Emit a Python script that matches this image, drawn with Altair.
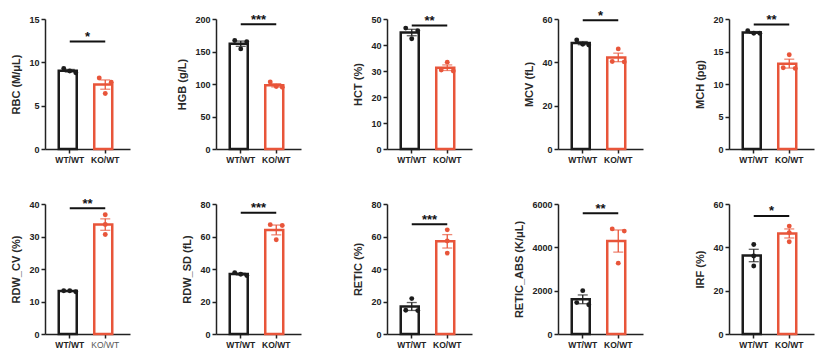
import altair as alt
import pandas as pd

GROUPS = ["WT/WT", "KO/WT"]
COLORS = ["#1c1c1c", "#e8553a"]

params = ["RBC", "HGB", "HCT", "MCV", "MCH", "RDW_CV", "RDW_SD", "RETIC", "RETIC_ABS", "IRF"]
titles = ["RBC (M/μL)", "HGB (g/L)", "HCT (%)", "MCV (fL)", "MCH (pg)",
          "RDW_CV (%)", "RDW_SD (fL)", "RETIC (%)", "RETIC_ABS (K/μL)", "IRF (%)"]
y_max = [15, 200, 50, 60, 20, 40, 80, 80, 6000, 60]
y_step = [5, 50, 10, 20, 5, 10, 20, 20, 2000, 20]

wt_values = [
    [9.3, 9.0, 8.8],
    [167, 165, 154],
    [46.5, 45.5, 42.4],
    [50.3, 48.3, 48.0],
    [18.2, 17.8, 17.8],
    [13.0, 13.3, 13.3],
    [37.8, 36.8, 36.0],
    [21.8, 14.6, 14.4],
    [2000, 1450, 1350],
    [41.3, 36.0, 31.4],
]
ko_values = [
    [8.2, 7.7, 6.4],
    [103, 96, 95],
    [33.4, 30.4, 30.0],
    [46.2, 40.4, 40.2],
    [14.5, 12.5, 12.4],
    [36.7, 33.7, 30.6],
    [67.3, 66.8, 58.0],
    [64.1, 57.2, 49.8],
    [4850, 4750, 3270],
    [49.8, 46.8, 42.6],
]
sig_y = [12.4, 192, 47.5, 59.4, 19.15, 38.7, 74.6, 67.6, 5570, 54.5]
sig_text = ["*", "***", "**", "*", "**", "**", "***", "***", "**", "*"]

W, H = 85, 130
PAD_INNER, PAD_OUTER = 0.38, 0.387
STEP = W / (2 - PAD_INNER + 2 * PAD_OUTER)
HALF_GAP = STEP * PAD_INNER / 2  # from end of first band to midpoint between bands
FONT = "Liberation Sans"
AX = "#222222"


def slots(vals, ymax, diam=5.0):
    """Beeswarm-like horizontal slot for each point (computed from values)."""
    thr = diam * ymax / H
    order = sorted(range(len(vals)), key=lambda k: -vals[k])
    clusters = []
    for k in order:
        if clusters and vals[clusters[-1][-1]] - vals[k] < thr:
            clusters[-1].append(k)
        else:
            clusters.append([k])
    names = {1: ["C"], 2: ["L", "R"], 3: ["L", "C", "R"]}
    out = [None] * len(vals)
    for c in clusters:
        for k, n in zip(c, names[len(c)]):
            out[k] = n
    return out


def panel(i):
    ym = y_max[i]
    rows = []
    for g, vals in zip(GROUPS, [wt_values[i], ko_values[i]]):
        for v, s in zip(vals, slots(vals, ym)):
            rows.append({"group": g, "value": v, "slot": s})
    df = pd.DataFrame(rows)
    sig = pd.DataFrame({"group": [GROUPS[0]], "group2": [GROUPS[1]],
                        "y": [sig_y[i]], "label": [sig_text[i]]})

    xscale = alt.Scale(domain=GROUPS, paddingInner=PAD_INNER, paddingOuter=PAD_OUTER)
    yscale = alt.Scale(domain=[0, ym], nice=False, zero=True)
    color = alt.Color("group:N", scale=alt.Scale(domain=GROUPS, range=COLORS), legend=None)

    if i == 5:
        lw = {"expr": "datum.value == 'KO/WT' ? 'normal' : 'bold'"}
        lc = {"expr": "datum.value == 'KO/WT' ? '#555555' : '#222222'"}
    else:
        lw = "bold"
        lc = AX

    xaxis = alt.Axis(title=None, labelAngle=0, domainColor=AX, domainWidth=1.5,
                     tickColor=AX, tickWidth=1.5, tickSize=4, labelPadding=2,
                     labelFontSize=8.5, labelFontWeight=lw, labelColor=lc, labelFont=FONT)
    yaxis = alt.Axis(title=titles[i], values=list(range(0, ym + 1, y_step[i])), format="d",
                     grid=False, domainColor=AX, domainWidth=1.5, tickColor=AX, tickWidth=1.5,
                     tickSize=4, labelPadding=2, labelFontSize=9, labelFontWeight="bold",
                     labelColor=AX, labelFont=FONT, titleFont=FONT, titleFontSize=11,
                     titleFontWeight="bold", titleColor="#2a2a2a", titlePadding=7)

    xenc = alt.X("group:N", sort=GROUPS, scale=xscale, axis=xaxis)

    base = alt.Chart(df)
    bars = base.mark_bar(fill="white", strokeWidth=2.5).encode(
        x=xenc,
        y=alt.Y("mean(value):Q", scale=yscale, axis=yaxis),
        stroke=alt.Stroke("group:N", scale=alt.Scale(domain=GROUPS, range=COLORS), legend=None),
    )
    err = base.mark_errorbar(extent="stderr", ticks=True, size=10, thickness=1.3).encode(
        x=xenc,
        y=alt.Y("value:Q", scale=yscale, axis=yaxis),
        color=color,
    )
    pts = base.mark_circle(size=24, opacity=1).encode(
        x=xenc,
        xOffset=alt.XOffset("slot:N", scale=alt.Scale(domain=["L", "C", "R"], type="point", padding=0.83)),
        y=alt.Y("value:Q", scale=yscale, axis=yaxis),
        color=color,
    )
    sbase = alt.Chart(sig)
    line = sbase.mark_rule(color="#111111", strokeWidth=2).encode(
        x=alt.X("group:N", scale=xscale, axis=xaxis, bandPosition=0.5),
        x2=alt.X2("group2", bandPosition=0.5),
        y=alt.Y("y:Q", scale=yscale, axis=yaxis),
    )
    stars = sbase.mark_text(font=FONT, fontSize=13, fontWeight="bold", color="#111111",
                            baseline="alphabetic", dy=-0.5, dx=HALF_GAP).encode(
        x=alt.X("group:N", scale=xscale, axis=xaxis, bandPosition=1),
        y=alt.Y("y:Q", scale=yscale, axis=yaxis),
        text="label:N",
    )
    return alt.layer(bars, err, pts, line, stars).properties(width=W, height=H)


chart = alt.concat(*[panel(i) for i in range(10)], columns=5,
                   spacing={"row": 55, "column": 86}, bounds="flush").properties(
    padding={"left": 2, "top": 1, "right": 5, "bottom": 5}
).configure(font=FONT, view=alt.ViewConfig(strokeWidth=0))

chart.save("out.html", embed_options={"renderer": "svg", "actions": False})
